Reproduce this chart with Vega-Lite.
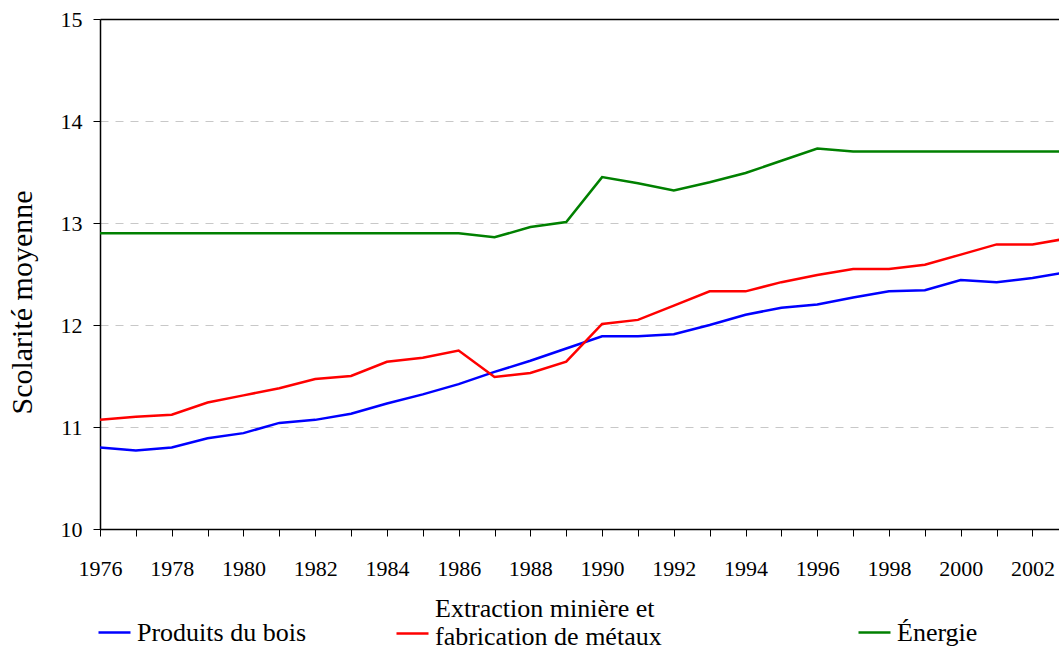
{
  "$schema": "https://vega.github.io/schema/vega-lite/v6.json",
  "width": 959,
  "height": 510,
  "autosize": {"type": "none"},
  "padding": {"left": 100, "top": 19, "right": 0, "bottom": 120},
  "background": "white",
  "config": {
    "view": {"stroke": null},
    "font": "Liberation Serif",
    "legend": {"labelFont": "Liberation Serif", "labelFontSize": 26, "labelColor": "black", "symbolType": "stroke", "symbolSize": 1024, "symbolStrokeWidth": 2.5, "labelOffset": 5, "labelLimit": 500, "orient": "none", "title": null}
  },
  "data": {
    "values": [
      {"year": 1976, "Produits du bois": 10.80, "Extraction minière et fabrication de métaux": 11.07, "Énergie": 12.90},
      {"year": 1977, "Produits du bois": 10.77, "Extraction minière et fabrication de métaux": 11.10, "Énergie": 12.90},
      {"year": 1978, "Produits du bois": 10.80, "Extraction minière et fabrication de métaux": 11.12, "Énergie": 12.90},
      {"year": 1979, "Produits du bois": 10.89, "Extraction minière et fabrication de métaux": 11.24, "Énergie": 12.90},
      {"year": 1980, "Produits du bois": 10.94, "Extraction minière et fabrication de métaux": 11.31, "Énergie": 12.90},
      {"year": 1981, "Produits du bois": 11.04, "Extraction minière et fabrication de métaux": 11.38, "Énergie": 12.90},
      {"year": 1982, "Produits du bois": 11.07, "Extraction minière et fabrication de métaux": 11.47, "Énergie": 12.90},
      {"year": 1983, "Produits du bois": 11.13, "Extraction minière et fabrication de métaux": 11.50, "Énergie": 12.90},
      {"year": 1984, "Produits du bois": 11.23, "Extraction minière et fabrication de métaux": 11.64, "Énergie": 12.90},
      {"year": 1985, "Produits du bois": 11.32, "Extraction minière et fabrication de métaux": 11.68, "Énergie": 12.90},
      {"year": 1986, "Produits du bois": 11.42, "Extraction minière et fabrication de métaux": 11.75, "Énergie": 12.90},
      {"year": 1987, "Produits du bois": 11.54, "Extraction minière et fabrication de métaux": 11.49, "Énergie": 12.86},
      {"year": 1988, "Produits du bois": 11.65, "Extraction minière et fabrication de métaux": 11.53, "Énergie": 12.96},
      {"year": 1989, "Produits du bois": 11.77, "Extraction minière et fabrication de métaux": 11.64, "Énergie": 13.01},
      {"year": 1990, "Produits du bois": 11.89, "Extraction minière et fabrication de métaux": 12.01, "Énergie": 13.45},
      {"year": 1991, "Produits du bois": 11.89, "Extraction minière et fabrication de métaux": 12.05, "Énergie": 13.39},
      {"year": 1992, "Produits du bois": 11.91, "Extraction minière et fabrication de métaux": 12.19, "Énergie": 13.32},
      {"year": 1993, "Produits du bois": 12.00, "Extraction minière et fabrication de métaux": 12.33, "Énergie": 13.40},
      {"year": 1994, "Produits du bois": 12.10, "Extraction minière et fabrication de métaux": 12.33, "Énergie": 13.49},
      {"year": 1995, "Produits du bois": 12.17, "Extraction minière et fabrication de métaux": 12.42, "Énergie": 13.61},
      {"year": 1996, "Produits du bois": 12.20, "Extraction minière et fabrication de métaux": 12.49, "Énergie": 13.73},
      {"year": 1997, "Produits du bois": 12.27, "Extraction minière et fabrication de métaux": 12.55, "Énergie": 13.70},
      {"year": 1998, "Produits du bois": 12.33, "Extraction minière et fabrication de métaux": 12.55, "Énergie": 13.70},
      {"year": 1999, "Produits du bois": 12.34, "Extraction minière et fabrication de métaux": 12.59, "Énergie": 13.70},
      {"year": 2000, "Produits du bois": 12.44, "Extraction minière et fabrication de métaux": 12.69, "Énergie": 13.70},
      {"year": 2001, "Produits du bois": 12.42, "Extraction minière et fabrication de métaux": 12.79, "Énergie": 13.70},
      {"year": 2002, "Produits du bois": 12.46, "Extraction minière et fabrication de métaux": 12.79, "Énergie": 13.70},
      {"year": 2003, "Produits du bois": 12.52, "Extraction minière et fabrication de métaux": 12.85, "Énergie": 13.70}
    ]
  },
  "transform": [
    {"fold": ["Produits du bois", "Extraction minière et fabrication de métaux", "Énergie"], "as": ["series", "value"]}
  ],
  "encoding": {
    "x": {
      "field": "year", "type": "quantitative",
      "scale": {"domain": [1976, 2002.74], "nice": false, "zero": false},
      "axis": {
        "title": null, "grid": false,
        "values": [1976,1977,1978,1979,1980,1981,1982,1983,1984,1985,1986,1987,1988,1989,1990,1991,1992,1993,1994,1995,1996,1997,1998,1999,2000,2001,2002],
        "format": "d", "labelExpr": "datum.value % 2 == 0 ? datum.label : ''",
        "labelOverlap": false, "labelFlush": false, "tickSize": 7, "labelPadding": 22, "domainWidth": 1.5,
        "labelFontSize": 22, "labelFont": "Liberation Serif", "labelColor": "black", "domainColor": "black", "tickColor": "black"
      }
    },
    "y": {
      "field": "value", "type": "quantitative",
      "scale": {"domain": [10, 15], "nice": false, "zero": false},
      "axis": {
        "title": "Scolarité moyenne", "values": [10, 11, 12, 13, 14, 15],
        "tickSize": 7, "labelPadding": 11, "domainWidth": 1.5,
        "labelFontSize": 22, "titleFontSize": 30, "labelFont": "Liberation Serif", "titleFont": "Liberation Serif",
        "labelColor": "black", "titleColor": "black", "domainColor": "black", "tickColor": "black", "titleFontWeight": "normal",
        "grid": true,
        "gridColor": {"condition": {"test": "datum.value == 15", "value": "black"}, "value": "#c8c8c8"},
        "gridDash": {"condition": {"test": "datum.value == 15", "value": []}, "value": [8, 7]},
        "gridWidth": {"condition": {"test": "datum.value == 15", "value": 1.5}, "value": 1},
        "titleX": -78, "titleY": 283, "titleAngle": -90, "titleAlign": "center", "titleBaseline": "middle"
      }
    }
  },
  "layer": [
    {
      "transform": [{"filter": "datum.series === 'Produits du bois'"}],
      "mark": {"type": "line", "clip": true, "strokeWidth": 2.5},
      "encoding": {
        "color": {"field": "series", "type": "nominal", "scale": {"domain": ["Produits du bois"], "range": ["#0000ff"]},
          "legend": {"legendX": -3, "legendY": 596}}
      }
    },
    {
      "transform": [{"filter": "datum.series === 'Extraction minière et fabrication de métaux'"}],
      "mark": {"type": "line", "clip": true, "strokeWidth": 2.5},
      "encoding": {
        "color": {"field": "series", "type": "nominal", "scale": {"domain": ["Extraction minière et fabrication de métaux"], "range": ["#ff0000"]},
          "legend": {"legendX": 295, "legendY": 572, "symbolType": "M-1,1.5625H1", "labelExpr": "['Extraction minière et', 'fabrication de métaux']"}}
      }
    },
    {
      "transform": [{"filter": "datum.series === 'Énergie'"}],
      "mark": {"type": "line", "clip": true, "strokeWidth": 2.5},
      "encoding": {
        "color": {"field": "series", "type": "nominal", "scale": {"domain": ["Énergie"], "range": ["#008000"]},
          "legend": {"legendX": 757, "legendY": 596}}
      }
    }
  ],
  "resolve": {"scale": {"color": "independent"}, "legend": {"color": "independent"}}
}
